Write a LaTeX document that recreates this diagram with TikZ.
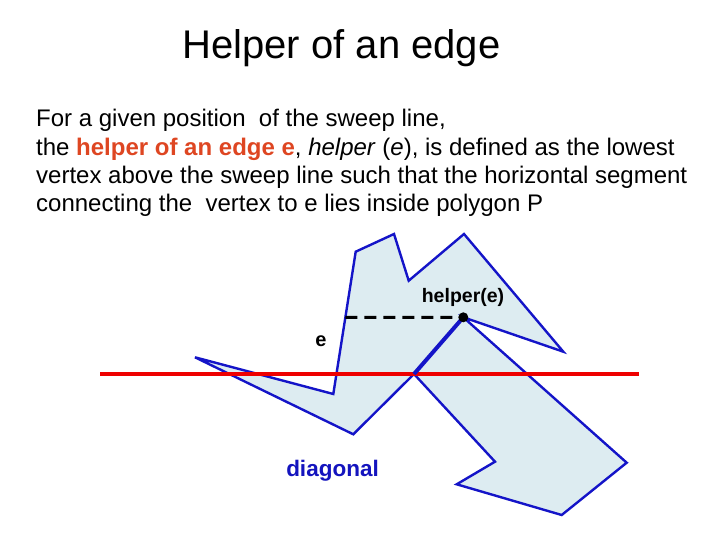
\documentclass[tikz,border=0pt]{standalone}
\usepackage{fontspec}
\setmainfont{Liberation Sans}
\usetikzlibrary{calc}
\definecolor{polyblue}{RGB}{20,20,200}
\definecolor{polyfill}{RGB}{221,236,241}
\definecolor{sweepred}{RGB}{238,0,0}
\definecolor{hiorange}{RGB}{222,70,34}
\definecolor{labelblue}{RGB}{20,20,190}
\tikzset{
  polygonshape/.style={draw=polyblue, line width=2.4pt, fill=polyfill, line join=miter},
  sweepline/.style={draw=sweepred, line width=3.6pt},
  diagline/.style={draw=polyblue, line width=4pt},
  helperseg/.style={draw=black, line width=3pt, dash pattern=on 12pt off 7pt},
  bodytext/.style={anchor=base west, inner sep=0pt, font=\fontsize{24}{28}\selectfont},
  titletext/.style={anchor=base, inner sep=0pt, font=\fontsize{40}{48}\selectfont},
  smalllabel/.style={anchor=base, inner sep=0pt, font=\bfseries\fontsize{19.5}{23}\selectfont},
}
\begin{document}
\begin{tikzpicture}[x=1pt,y=-1pt]
\useasboundingbox (0,0) rectangle (720,540);
% title and text
\node[titletext] (title) at (341.5,59) {Helper of an edge};
\node[bodytext] (l1) at (36,127) {For a given position\ \ of the sweep line,};
\node[bodytext] (l2) at (36,155.3) {the \textcolor{hiorange}{\textbf{helper of an edge e}}, \textit{helper} (\textit{e}), is defined as the lowest};
\node[bodytext] (l3) at (36,183.6) {vertex above the sweep line such that the horizontal segment};
\node[bodytext] (l4) at (36,211.9) {connecting the\ \ vertex to e lies inside polygon P};
% polygon vertices
\coordinate (v1) at (195,357.3);
\coordinate (v2) at (333.3,394);
\coordinate (v3) at (355.7,251.7);
\coordinate (v4) at (394,234);
\coordinate (v5) at (408.7,280.7);
\coordinate (v6) at (464,234);
\coordinate (v7) at (563.3,351.7);
\coordinate (h) at (463.3,317.3);
\coordinate (v9) at (626.7,462.7);
\coordinate (v10) at (561.7,515);
\coordinate (v11) at (456.7,484.3);
\coordinate (v12) at (495,461.7);
\coordinate (s) at (414,374);
\coordinate (v14) at (353.3,434.3);
\path[polygonshape] (v1) -- (v2) -- (v3) -- (v4) -- (v5) -- (v6) -- (v7) -- (h) -- (v9) -- (v10) -- (v11) -- (v12) -- (s) -- (v14) -- cycle;
% sweep line
\coordinate (swl) at (100,374);
\coordinate (swr) at (639,374);
\draw[sweepline] (swl) -- (swr);
% diagonal
\draw[diagline] (s) -- (h);
% horizontal segment from edge e to helper
\coordinate (eh) at ($(v2)!0.539!(v3)$);
\draw[helperseg] (eh) -- (h);
\fill[black] (h) circle (5pt);
% labels
\node[smalllabel] (hl) at (463,302) {helper(e)};
\node[smalllabel, font=\bfseries\fontsize{20}{24}\selectfont] (el) at (321,346.7) {e};
\node[smalllabel, text=labelblue, font=\bfseries\fontsize{22.5}{27}\selectfont] (dl) at (332.5,476.7) {diagonal};
\end{tikzpicture}
\end{document}
